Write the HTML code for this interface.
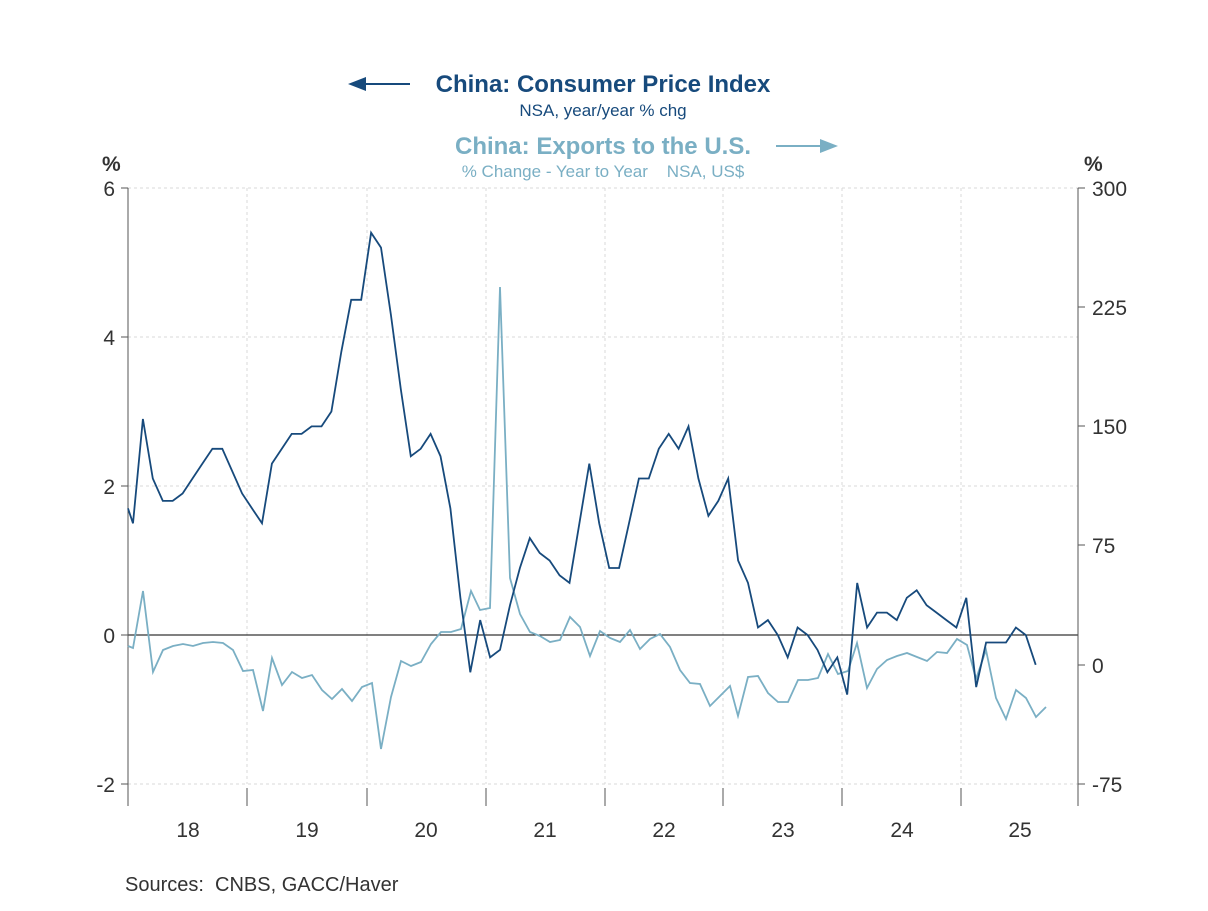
<!DOCTYPE html>
<html><head><meta charset="utf-8"><style>
body{margin:0;background:#fff;}
svg text{font-family:"Liberation Sans",sans-serif;}
</style></head><body>
<svg id="s" width="1208" height="906" xmlns="http://www.w3.org/2000/svg">
<g stroke="#d8d8d8" stroke-dasharray="3,3" stroke-width="1">
<line x1="128" y1="188" x2="1078" y2="188"/>
<line x1="128" y1="337" x2="1078" y2="337"/>
<line x1="128" y1="486" x2="1078" y2="486"/>
<line x1="128" y1="784" x2="1078" y2="784"/>
<line x1="247" y1="188" x2="247" y2="784"/>
<line x1="367" y1="188" x2="367" y2="784"/>
<line x1="486" y1="188" x2="486" y2="784"/>
<line x1="605" y1="188" x2="605" y2="784"/>
<line x1="723" y1="188" x2="723" y2="784"/>
<line x1="842" y1="188" x2="842" y2="784"/>
<line x1="961" y1="188" x2="961" y2="784"/>
</g>
<line x1="128" y1="635" x2="1078" y2="635" stroke="#000" stroke-width="1"/>
<g stroke="#555" stroke-width="1">
<line x1="128" y1="188" x2="128" y2="806"/>
<line x1="1078" y1="188" x2="1078" y2="806"/>
<line x1="121" y1="188" x2="128" y2="188"/><line x1="121" y1="337" x2="128" y2="337"/>
<line x1="121" y1="486" x2="128" y2="486"/><line x1="121" y1="635" x2="128" y2="635"/>
<line x1="121" y1="784" x2="128" y2="784"/>
<line x1="1078" y1="188" x2="1085" y2="188"/><line x1="1078" y1="307" x2="1085" y2="307"/>
<line x1="1078" y1="426" x2="1085" y2="426"/><line x1="1078" y1="545" x2="1085" y2="545"/>
<line x1="1078" y1="665" x2="1085" y2="665"/><line x1="1078" y1="784" x2="1085" y2="784"/>
<line x1="247" y1="788" x2="247" y2="806"/><line x1="367" y1="788" x2="367" y2="806"/>
<line x1="486" y1="788" x2="486" y2="806"/><line x1="605" y1="788" x2="605" y2="806"/>
<line x1="723" y1="788" x2="723" y2="806"/><line x1="842" y1="788" x2="842" y2="806"/>
<line x1="961" y1="788" x2="961" y2="806"/>
</g>
<g font-size="21" fill="#333" text-anchor="end">
<text x="115" y="196">6</text><text x="115" y="345">4</text><text x="115" y="494">2</text>
<text x="115" y="643">0</text><text x="115" y="792">-2</text>
</g>
<g font-size="21" fill="#333" text-anchor="start">
<text x="1092" y="196">300</text><text x="1092" y="315">225</text><text x="1092" y="434">150</text>
<text x="1092" y="553">75</text><text x="1092" y="673">0</text><text x="1092" y="792">-75</text>
</g>
<g font-size="21" fill="#333" text-anchor="middle">
<text x="188" y="837">18</text><text x="307" y="837">19</text><text x="426" y="837">20</text>
<text x="545" y="837">21</text><text x="664" y="837">22</text><text x="783" y="837">23</text>
<text x="902" y="837">24</text><text x="1020" y="837">25</text>
</g>
<text x="102" y="171" font-size="21" font-weight="bold" fill="#333">%</text>
<text x="1084" y="171" font-size="21" font-weight="bold" fill="#333">%</text>
<text x="125" y="891" font-size="20" fill="#333">Sources:&#160; CNBS, GACC/Haver</text>
<text x="603" y="92" font-size="24" font-weight="bold" fill="#174a7c" text-anchor="middle">China: Consumer Price Index</text>
<text x="603" y="116" font-size="17" fill="#174a7c" text-anchor="middle">NSA, year/year % chg</text>
<line x1="360" y1="84" x2="410" y2="84" stroke="#174a7c" stroke-width="2"/>
<polygon points="348,84 366,77 366,91" fill="#174a7c"/>
<text x="603" y="154" font-size="24" font-weight="bold" fill="#7aafc4" text-anchor="middle">China: Exports to the U.S.</text>
<text x="603" y="177" font-size="17" fill="#7aafc4" text-anchor="middle">% Change - Year to Year&#160;&#160;&#160;&#160;NSA, US$</text>
<line x1="776" y1="146" x2="824" y2="146" stroke="#7aafc4" stroke-width="2"/>
<polygon points="838,146 820,139 820,153" fill="#7aafc4"/>
<polyline id="exp" fill="none" stroke="#7aafc4" stroke-width="1.8"/>
<polyline id="cpi" fill="none" stroke="#174a7c" stroke-width="1.8"/>
</svg>
<script>
var cpi=[1.5,2.9,2.1,1.8,1.8,1.9,2.1,2.3,2.5,2.5,2.2,1.9,
1.7,1.5,2.3,2.5,2.7,2.7,2.8,2.8,3.0,3.8,4.5,4.5,
5.4,5.2,4.3,3.3,2.4,2.5,2.7,2.4,1.7,0.5,-0.5,0.2,
-0.3,-0.2,0.4,0.9,1.3,1.1,1.0,0.8,0.7,1.5,2.3,1.5,
0.9,0.9,1.5,2.1,2.1,2.5,2.7,2.5,2.8,2.1,1.6,1.8,
2.1,1.0,0.7,0.1,0.2,0.0,-0.3,0.1,0.0,-0.2,-0.5,-0.3,
-0.8,0.7,0.1,0.3,0.3,0.2,0.5,0.6,0.4,0.3,0.2,0.1,
0.5,-0.7,-0.1,-0.1,-0.1,0.1,0.0,-0.4];
var p=["128,"+(635-1.7*74.5)];
cpi.forEach(function(v,i){p.push((133+i*9.92).toFixed(1)+","+(635-v*74.5).toFixed(1));});
document.getElementById("cpi").setAttribute("points",p.join(" "));
var e=[[128,646],[133,648],[143,591],[153,672],[163,650],[173,646],[183,644],[193,646],[203,643],[213,642],[223,643],[233,650],[243,671],[253,670],[263,711],[272,658],[282,685],[292,672],[302,678],[312,675],[322,690],[332,699],[342,689],[352,701],[362,687],[372,683],[381,749],[391,697],[401,661],[411,666],[421,662],[431,644],[441,632],[451,632],[461,629],[471,591],[480,610],[490,608],[500,287],[510,578],[520,614],[530,632],[540,636],[550,642],[560,640],[570,617],[580,627],[590,656],[600,631],[610,638],[620,642],[630,630],[640,649],[650,639],[660,634],[670,647],[680,670],[690,683],[700,684],[710,706],[720,696],[730,686],[738,716],[748,677],[758,676],[768,693],[778,702],[788,702],[798,680],[808,680],[818,678],[828,654],[838,674],[848,671],[857,643],[867,688],[877,669],[887,660],[897,656],[907,653],[917,657],[927,661],[937,652],[947,653],[957,639],[967,645],[976,679],[986,650],[996,698],[1006,719],[1016,690],[1026,698],[1036,717],[1046,707]];
document.getElementById("exp").setAttribute("points",e.map(function(a){return a.join(",");}).join(" "));
</script>
</body></html>
